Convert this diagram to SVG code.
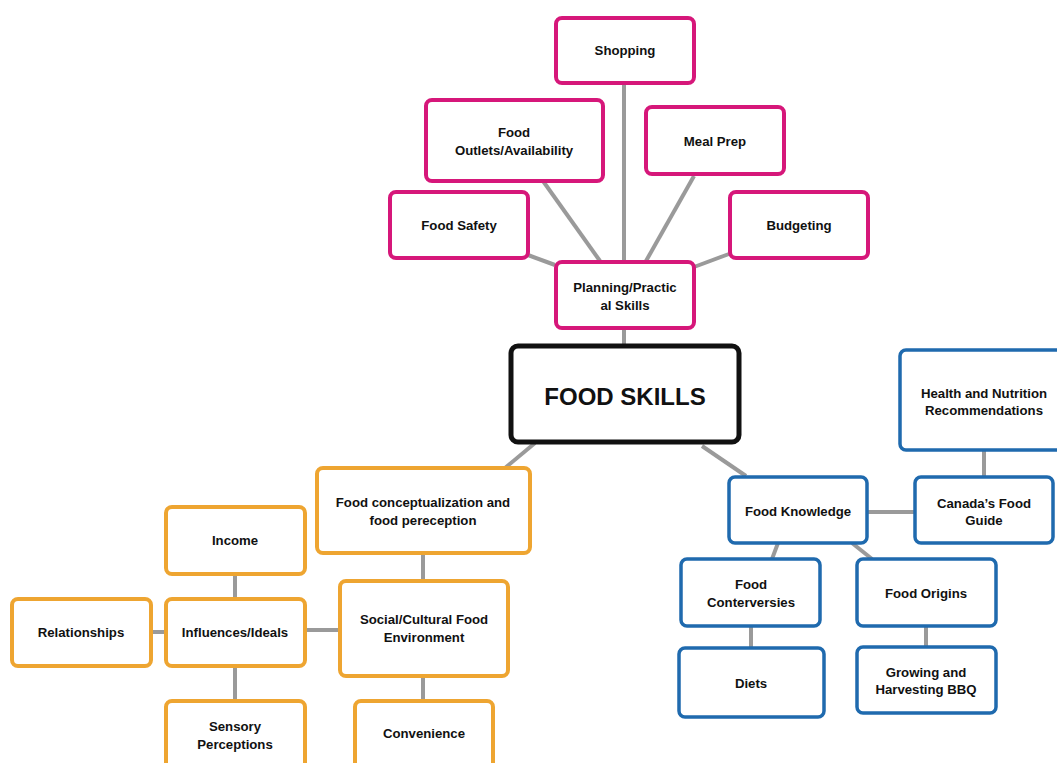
<svg xmlns="http://www.w3.org/2000/svg" width="1057" height="763" viewBox="0 0 1057 763">
<style>
.n rect{fill:#fff;}
.p rect{stroke:#d6177a;stroke-width:4;}
.o rect{stroke:#eea531;stroke-width:4;}
.b rect{stroke:#1f6aae;stroke-width:3.5;}
.k rect{stroke:#111;stroke-width:5;}
text{font-family:"Liberation Sans",Arial,sans-serif;font-weight:bold;font-size:13.2px;fill:#111;text-anchor:middle;}
.big{font-size:24px;}
#connectors line{stroke:#9a9a9a;stroke-width:4;}
</style>
<rect width="1057" height="763" fill="#fff"/>
<g id="connectors">
<line x1="624" y1="83" x2="624" y2="261"/>
<line x1="543" y1="181" x2="600" y2="261"/>
<line x1="694" y1="176" x2="646" y2="261"/>
<line x1="528" y1="255" x2="555" y2="265"/>
<line x1="729" y1="254" x2="694" y2="267"/>
<line x1="624" y1="328" x2="624" y2="346"/>
<line x1="535" y1="443" x2="505" y2="468"/>
<line x1="702" y1="446" x2="746" y2="476"/>
<line x1="423" y1="553" x2="423" y2="580"/>
<line x1="305" y1="630" x2="339" y2="630"/>
<line x1="151" y1="632" x2="165" y2="632"/>
<line x1="235" y1="574" x2="235" y2="598"/>
<line x1="235" y1="666" x2="235" y2="700"/>
<line x1="423" y1="676" x2="423" y2="700"/>
<line x1="867" y1="512" x2="915" y2="512"/>
<line x1="984" y1="450" x2="984" y2="477"/>
<line x1="778" y1="543" x2="772" y2="559"/>
<line x1="852" y1="543" x2="872" y2="559"/>
<line x1="751" y1="626" x2="751" y2="648"/>
<line x1="926" y1="626" x2="926" y2="647"/>
</g>
<g id="shopping" class="n p"><rect x="556" y="18" width="138" height="65" rx="6"/><text x="625" y="55">Shopping</text></g>
<g id="food-outlets" class="n p"><rect x="426" y="100" width="177" height="81" rx="6"/><text x="514" y="137">Food</text><text x="514" y="155">Outlets/Availability</text></g>
<g id="meal-prep" class="n p"><rect x="646" y="107" width="138" height="67" rx="6"/><text x="715" y="146">Meal Prep</text></g>
<g id="food-safety" class="n p"><rect x="390" y="192" width="138" height="66" rx="6"/><text x="459" y="230">Food Safety</text></g>
<g id="budgeting" class="n p"><rect x="730" y="192" width="138" height="66" rx="6"/><text x="799" y="230">Budgeting</text></g>
<g id="planning" class="n p"><rect x="556" y="262" width="138" height="66" rx="6"/><text x="625" y="292">Planning/Practic</text><text x="625" y="310">al Skills</text></g>
<g id="food-skills" class="n k"><rect x="511" y="346" width="228" height="96" rx="7"/><text class="big" x="625" y="405">FOOD SKILLS</text></g>
<g id="conceptualization" class="n o"><rect x="317" y="468" width="213" height="85" rx="6"/><text x="423" y="507">Food conceptualization and</text><text x="423" y="525">food pereception</text></g>
<g id="income" class="n o"><rect x="166" y="507" width="139" height="67" rx="6"/><text x="235" y="545">Income</text></g>
<g id="relationships" class="n o"><rect x="12" y="599" width="139" height="67" rx="6"/><text x="81" y="637">Relationships</text></g>
<g id="influences" class="n o"><rect x="166" y="599" width="139" height="67" rx="6"/><text x="235" y="637">Influences/Ideals</text></g>
<g id="social" class="n o"><rect x="340" y="581" width="168" height="95" rx="6"/><text x="424" y="624">Social/Cultural Food</text><text x="424" y="642">Environment</text></g>
<g id="sensory" class="n o"><rect x="166" y="701" width="139" height="70" rx="6"/><text x="235" y="731">Sensory</text><text x="235" y="749">Perceptions</text></g>
<g id="convenience" class="n o"><rect x="355" y="701" width="138" height="70" rx="6"/><text x="424" y="738">Convenience</text></g>
<g id="health" class="n b"><rect x="900" y="350" width="165" height="100" rx="6"/><text x="984" y="398">Health and Nutrition</text><text x="984" y="415">Recommendations</text></g>
<g id="canada" class="n b"><rect x="915" y="477" width="138" height="66" rx="6"/><text x="984" y="508">Canada’s Food</text><text x="984" y="525">Guide</text></g>
<g id="food-knowledge" class="n b"><rect x="729" y="477" width="138" height="66" rx="6"/><text x="798" y="516">Food Knowledge</text></g>
<g id="controversies" class="n b"><rect x="681" y="559" width="139" height="67" rx="6"/><text x="751" y="589">Food</text><text x="751" y="607">Conterversies</text></g>
<g id="food-origins" class="n b"><rect x="857" y="559" width="139" height="67" rx="6"/><text x="926" y="598">Food Origins</text></g>
<g id="diets" class="n b"><rect x="679" y="648" width="145" height="69" rx="6"/><text x="751" y="688">Diets</text></g>
<g id="growing" class="n b"><rect x="857" y="647" width="139" height="66" rx="6"/><text x="926" y="677">Growing and</text><text x="926" y="694">Harvesting BBQ</text></g>
</svg>
